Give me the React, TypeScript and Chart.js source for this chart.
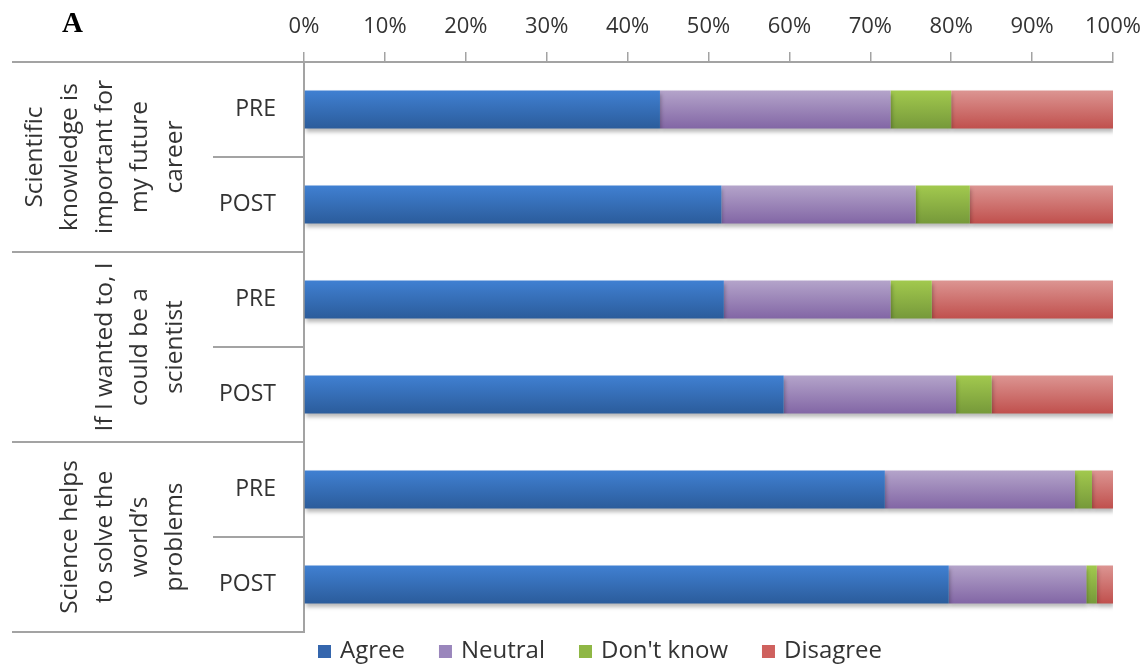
import React, { useEffect, useRef } from "react";
import { Chart, registerables } from "chart.js";

Chart.register(...registerables);

const phaseLabels = ["PRE", "POST", "PRE", "POST", "PRE", "POST"];
const groupLabels = [
  ["Scientific", "knowledge is", "important for", "my future", "career"],
  ["If I wanted to, I", "could be a", "scientist"],
  ["Science helps", "to solve the", "world\u2019s", "problems"],
];
const seriesNames = ["Agree", "Neutral", "Don't know", "Disagree"];
const agree = [44, 51.6, 51.9, 59.3, 71.8, 79.7];
const neutral = [28.5, 24, 20.6, 21.3, 23.5, 17];
const dontKnow = [7.5, 6.7, 5.1, 4.4, 2.1, 1.3];
const disagree = [20, 17.7, 22.4, 15, 2.6, 2.0];
const xTicks = [0, 10, 20, 30, 40, 50, 60, 70, 80, 90, 100];

const topColors = ["#4080d2", "#b4a4ca", "#a2c94e", "#dc9592"];
const bottomColors = ["#2b5c9b", "#8266a5", "#76993a", "#c0504d"];
const legendColors = ["#3566ad", "#9a86bc", "#8fb745", "#cf615e"];

const LINE = "#a3a3a3";
const TEXT = "#333333";
const FONT = "'Open Sans', sans-serif";

function barFill(i: number) {
  return (c: any) => {
    const chart = c.chart;
    const ys = chart.scales && chart.scales.y;
    if (c.type !== "data" || !ys || !chart.chartArea) return bottomColors[i];
    const mid = ys.getPixelForValue(c.dataIndex);
    const g = chart.ctx.createLinearGradient(0, mid - 19, 0, mid + 19);
    g.addColorStop(0, topColors[i]);
    g.addColorStop(1, bottomColors[i]);
    return g;
  };
}

const shadowPlugin = {
  id: "barShadow",
  beforeDatasetsDraw(chart: any) {
    const ctx = chart.ctx;
    ctx.save();
    ctx.shadowColor = "rgba(0,0,0,0.28)";
    ctx.shadowBlur = 4;
    ctx.shadowOffsetY = 3;
    ctx.shadowOffsetX = 1;
  },
  afterDatasetsDraw(chart: any) {
    chart.ctx.restore();
  },
};

const tablePlugin = {
  id: "tableDecor",
  afterDraw(chart: any) {
    const { ctx, chartArea, scales } = chart;
    const y = scales.y;
    const left = chartArea.left;
    const n = phaseLabels.length;
    const half = (y.getPixelForValue(1) - y.getPixelForValue(0)) / 2;
    ctx.save();
    ctx.strokeStyle = LINE;
    ctx.lineWidth = 2;
    for (let i = 0; i <= n; i++) {
      const py = i < n ? y.getPixelForValue(i) - half : y.getPixelForValue(n - 1) + half;
      const isGroup = i % 2 === 0;
      ctx.beginPath();
      ctx.moveTo(isGroup ? 12 : 213, Math.round(py));
      ctx.lineTo(left, Math.round(py));
      ctx.stroke();
    }
    // group labels
    ctx.fillStyle = TEXT;
    ctx.font = `24.5px ${FONT}`;
    ctx.textAlign = "center";
    ctx.textBaseline = "middle";
    groupLabels.forEach((lines, g) => {
      const cy = (y.getPixelForValue(g * 2) + y.getPixelForValue(g * 2 + 1)) / 2;
      lines.forEach((txt, k) => {
        const x = 175 - (lines.length - 1 - k) * 35;
        ctx.save();
        ctx.translate(x, cy);
        ctx.rotate(-Math.PI / 2);
        ctx.fillText(txt, 0, 0);
        ctx.restore();
      });
    });
    // panel letter
    ctx.font = "bold 29px 'Liberation Serif', serif";
    ctx.textAlign = "left";
    ctx.textBaseline = "alphabetic";
    ctx.fillStyle = "#000";
    ctx.fillText("A", 62, 32);
    // legend
    ctx.font = `24px ${FONT}`;
    ctx.textBaseline = "middle";
    let lx = 318;
    const ly = 651;
    seriesNames.forEach((name, i) => {
      ctx.fillStyle = legendColors[i];
      ctx.fillRect(lx, ly - 6, 13, 13);
      ctx.fillStyle = TEXT;
      ctx.fillText(name, lx + 22, ly);
      lx += 22 + ctx.measureText(name).width + 34;
    });
    ctx.restore();
  },
};

export default function App() {
  const ref = useRef<HTMLCanvasElement | null>(null);
  useEffect(() => {
    document.body.style.margin = "0";
    if (!ref.current) return;
    const data = [agree, neutral, dontKnow, disagree];
    const chart = new Chart(ref.current, {
      type: "bar",
      data: {
        labels: phaseLabels,
        datasets: seriesNames.map((name, i) => ({
          label: name,
          data: data[i],
          backgroundColor: barFill(i),
          borderWidth: 0,
          categoryPercentage: 1,
          barPercentage: 0.4,
        })),
      },
      options: {
        indexAxis: "y",
        responsive: false,
        animation: false,
        devicePixelRatio: 1,
        layout: { padding: { left: 0, right: 29, top: 0, bottom: 34 } },
        plugins: { legend: { display: false }, tooltip: { enabled: false } },
        scales: {
          x: {
            position: "top",
            stacked: true,
            min: 0,
            max: 100,
            afterBuildTicks: (s: any) => {
              s.ticks = xTicks.map((v) => ({ value: v }));
            },
            afterFit: (s: any) => {
              s.height = 62;
              s.paddingLeft = 0;
              s.paddingRight = 0;
            },
            ticks: {
              callback: (v: any) => v + "%",
              font: { family: FONT, size: 22 },
              color: TEXT,
              padding: 12,
              maxRotation: 0,
            },
            grid: {
              drawOnChartArea: false,
              drawTicks: true,
              tickLength: 10,
              color: LINE,
              lineWidth: 1.5,
            },
            border: { display: true, color: LINE, width: 2 },
          },
          y: {
            stacked: true,
            afterFit: (s: any) => {
              s.width = 304;
              s.paddingTop = 0;
              s.paddingBottom = 0;
            },
            ticks: {
              font: { family: FONT, size: 23 },
              color: TEXT,
              padding: 28,
            },
            grid: { display: false, drawTicks: false },
            border: { display: true, color: LINE, width: 2 },
          },
        },
      },
      plugins: [shadowPlugin, tablePlugin],
    } as any);
    return () => chart.destroy();
  }, []);
  return (
    <div style={{ width: 1142, height: 666, background: "#fff" }}>
      <canvas ref={ref} width={1142} height={666} style={{ display: "block" }} />
    </div>
  );
}
